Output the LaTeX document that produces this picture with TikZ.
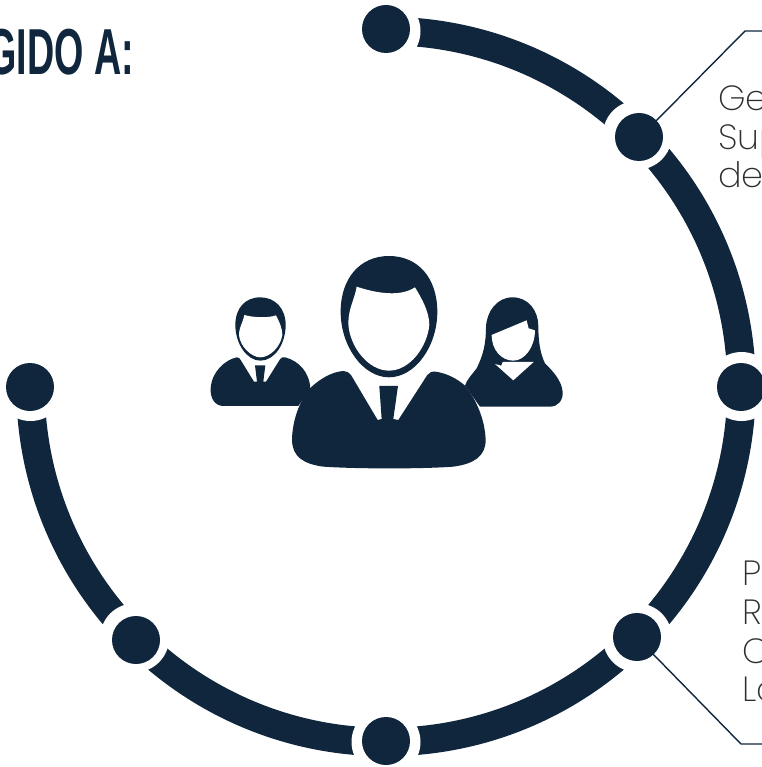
\documentclass[tikz,border=0pt]{standalone}
\usepackage{fontspec}
\setmainfont{Poppins}
\newfontfamily\titlefont{Liberation Sans}
\newfontfamily\thinfont{Poppins ExtraLight}
\definecolor{navy}{HTML}{0F263C}
\definecolor{lightgrey}{HTML}{2E2E2E}
\tikzset{
  dot/.style={circle,fill=navy,minimum size=48pt,inner sep=0pt},
  halo/.style={fill=white,draw=none},
  ring/.style={draw=navy,line width=28.5pt},
  leader/.style={draw=navy,line width=1.4pt},
  lab/.style={font=\thinfont\fontsize{35pt}{38pt}\selectfont,text=lightgrey,anchor=base west,inner sep=0pt},
  ttl/.style={font=\titlefont\bfseries\fontsize{65pt}{65pt}\selectfont,text=navy,anchor=base east,inner sep=0pt,xscale=0.58,transform shape},
  people/.style={fill=navy,draw=none},
  skin/.style={fill=white,draw=none}
}
\begin{document}
\begin{tikzpicture}[x=1pt,y=-1pt]
\useasboundingbox (0,0) rectangle (761,767);
\draw[ring] (386,31) arc[start angle=-90,end angle=180,radius=355.5];
\foreach \a in {90,45,0,-45,-90,-135,180}{
  \fill[halo] ({386+355.5*cos(\a)},{386.5-355.5*sin(\a)}) circle[radius=34.5];
}
\node[dot] (d1) at (386,29) {};
\node[dot] (d2) at (639,137) {};
\node[dot] (d3) at (741,387) {};
\node[dot] (d4) at (637,637) {};
\node[dot] (d5) at (386,741) {};
\node[dot] (d6) at (136,640) {};
\node[dot] (d7) at (30,387) {};
\coordinate (e1) at (745,31);
\coordinate (f1) at (762,31);
\coordinate (e2) at (741,744);
\coordinate (f2) at (762,744);
\draw[leader] (d2) ++(16,-15) -- (e1) -- (f1);
\draw[leader] (d4) ++(16,17) -- (e2) -- (f2);
\node[ttl] (title) at (134,75) {GIDO A:};
\node[lab] (t1) at (718,111) {Ge};
\node[lab] (t2) at (718,149.5) {Sup};
\node[lab] (t3) at (718,188) {de};
\node[lab] (t4) at (742,585) {Pr};
\node[lab] (t5) at (742,624) {Re};
\node[lab] (t6) at (742,663) {C};
\node[lab] (t7) at (742,701) {Lo};
\begin{scope}[shift={(190,240)},x=0.3333pt,y=-0.3333pt]
% left man
\fill[people] (211,172) .. controls (165,172) and (136,205) .. (136,255) .. controls (136,310) and (170,362) .. (211,362) .. controls (255,362) and (287,310) .. (287,255) .. controls (287,205) and (255,172) .. (211,172) -- cycle;
\fill[skin] (163,225) .. controls (185,232) and (235,235) .. (258,226) .. controls (268,245) and (277,265) .. (277,285) .. controls (272,320) and (240,352) .. (211,352) .. controls (185,352) and (150,320) .. (147,285) .. controls (147,262) and (158,250) .. (163,225) -- cycle;
\fill[people] (62,445) .. controls (65,395) and (105,360) .. (140,352) .. controls (146,351) and (150,356) .. (152,360) -- (192,425) -- (201,425) -- (195,376) -- (226,376) -- (220,425) -- (228,425) -- (270,358) .. controls (273,352) and (280,351) .. (285,352) .. controls (325,362) and (358,395) .. (361,445) -- (325,498) -- (100,498) .. controls (75,498) and (60,475) .. (62,445) -- cycle;
% woman
\fill[people] (968,172) .. controls (920,172) and (890,215) .. (888,262) .. controls (888,310) and (880,345) .. (860,385) .. controls (845,405) and (830,420) .. (825,437) -- (870,500) -- (1080,500) .. controls (1105,500) and (1120,480) .. (1118,455) .. controls (1115,420) and (1085,390) .. (1065,370) .. controls (1050,340) and (1045,300) .. (1045,258) .. controls (1045,212) and (1015,172) .. (968,172) -- cycle;
\fill[skin] (905,285) -- (1010,241) -- (1016,265) -- (1035,271) .. controls (1035,320) and (1005,362) .. (970,362) .. controls (935,362) and (905,330) .. (905,285) -- cycle;
\fill[skin] (915,372) -- (970,421) -- (1031,366) -- (938,366) -- (934,377) -- cycle;
% big man
\fill[people] (597,48) .. controls (510,48) and (452,115) .. (452,215) .. controls (452,320) and (520,412) .. (597,412) .. controls (675,412) and (742,320) .. (742,215) .. controls (742,115) and (685,48) .. (597,48) -- cycle;
\fill[skin] (500,140) .. controls (545,155) and (625,175) .. (675,142) .. controls (695,175) and (718,215) .. (718,255) .. controls (712,320) and (660,392) .. (597,392) .. controls (535,392) and (478,320) .. (475,250) .. controls (475,205) and (495,175) .. (500,140) -- cycle;
\fill[people] (360,445) .. controls (385,420) and (425,395) .. (460,393) .. controls (470,393) and (478,398) .. (483,405) -- (563,540) -- (575,537) -- (568,438) -- (624,438) -- (610,537) -- (625,540) -- (712,405) .. controls (718,397) and (726,394) .. (737,395) .. controls (770,400) and (800,415) .. (825,437) .. controls (860,480) and (885,540) .. (887,600) .. controls (887,650) and (850,672) .. (790,680) .. controls (700,687) and (500,687) .. (400,680) .. controls (340,672) and (307,650) .. (306,600) .. controls (307,540) and (330,480) .. (360,445) -- cycle;
\end{scope}
\end{tikzpicture}
\end{document}
